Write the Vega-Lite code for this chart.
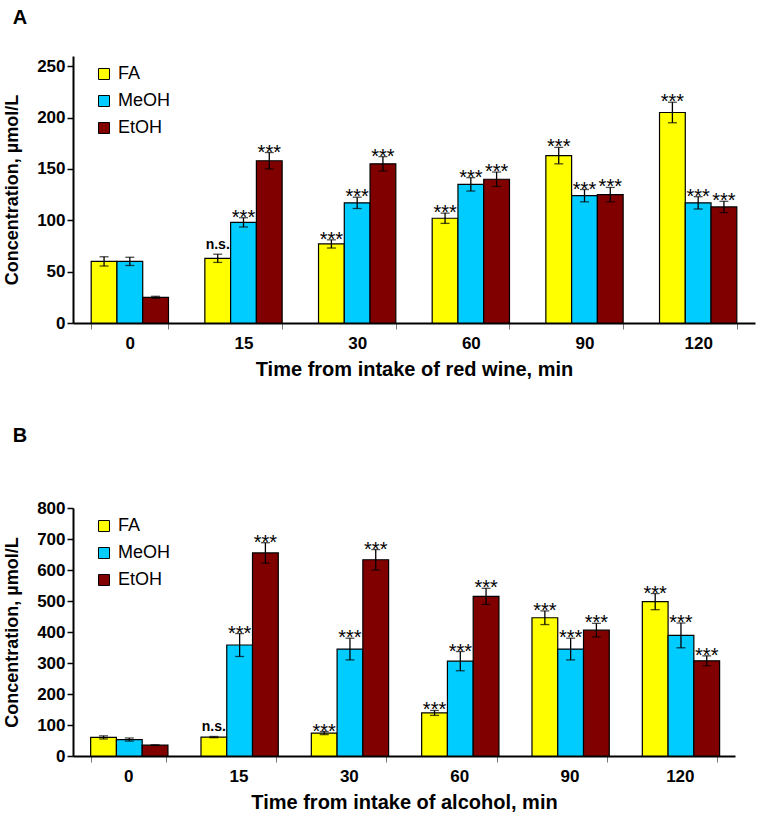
{
  "$schema": "https://vega.github.io/schema/vega-lite/v6.json",
  "padding": {"left": 3, "top": 8, "right": 2, "bottom": 2},
  "background": "white",
  "config": {
    "view": {"stroke": null},
    "font": "Liberation Sans",
    "axis": {"domainColor": "black", "domainWidth": 2, "labelColor": "black", "labelFont": "Liberation Sans", "labelFontWeight": "bold", "labelFontSize": 17, "titleFont": "Liberation Sans", "titleFontWeight": "bold", "titleColor": "black", "grid": false, "labelOverlap": false},
    "axisX": {"titleFontSize": 20},
    "axisY": {"titleFontSize": 18},
    "legend": {"orient": "none", "legendX": 22, "legendY": 9, "title": null, "padding": 0, "symbolType": "square", "symbolSize": 121, "symbolStrokeColor": "black", "symbolStrokeWidth": 1, "labelFontSize": 18, "labelFont": "Liberation Sans", "labelColor": "black", "rowPadding": 9, "labelOffset": 5},
    "concat": {"spacing": 47}
  },
  "resolve": {"scale": {"color": "independent"}, "legend": {"color": "independent"}},
  "datasets": {
    "a": [
      {"time": "0", "series": "FA", "value": 60, "lo": 55.5, "hi": 64.5, "sig": ""},
      {"time": "0", "series": "MeOH", "value": 60, "lo": 56, "hi": 64, "sig": ""},
      {"time": "0", "series": "EtOH", "value": 25, "lo": 24, "hi": 26, "sig": ""},
      {"time": "15", "series": "FA", "value": 63, "lo": 59, "hi": 67, "sig": "n.s."},
      {"time": "15", "series": "MeOH", "value": 98, "lo": 93.5, "hi": 102.5, "sig": "***"},
      {"time": "15", "series": "EtOH", "value": 158, "lo": 150, "hi": 166, "sig": "***"},
      {"time": "30", "series": "FA", "value": 77, "lo": 73, "hi": 81, "sig": "***"},
      {"time": "30", "series": "MeOH", "value": 117, "lo": 111.5, "hi": 122.5, "sig": "***"},
      {"time": "30", "series": "EtOH", "value": 155, "lo": 148, "hi": 162, "sig": "***"},
      {"time": "60", "series": "FA", "value": 102, "lo": 97, "hi": 107, "sig": "***"},
      {"time": "60", "series": "MeOH", "value": 135, "lo": 128.5, "hi": 141.5, "sig": "***"},
      {"time": "60", "series": "EtOH", "value": 140, "lo": 133, "hi": 147, "sig": "***"},
      {"time": "90", "series": "FA", "value": 163, "lo": 155, "hi": 171, "sig": "***"},
      {"time": "90", "series": "MeOH", "value": 124, "lo": 118, "hi": 130, "sig": "***"},
      {"time": "90", "series": "EtOH", "value": 125, "lo": 118, "hi": 132, "sig": "***"},
      {"time": "120", "series": "FA", "value": 205, "lo": 195, "hi": 215, "sig": "***"},
      {"time": "120", "series": "MeOH", "value": 117, "lo": 111, "hi": 123, "sig": "***"},
      {"time": "120", "series": "EtOH", "value": 113, "lo": 107.5, "hi": 118.5, "sig": "***"}
    ],
    "b": [
      {"time": "0", "series": "FA", "value": 60, "lo": 55, "hi": 65, "sig": ""},
      {"time": "0", "series": "MeOH", "value": 53, "lo": 48, "hi": 58, "sig": ""},
      {"time": "0", "series": "EtOH", "value": 35, "lo": 34, "hi": 36, "sig": ""},
      {"time": "15", "series": "FA", "value": 61, "lo": 59, "hi": 63, "sig": "n.s."},
      {"time": "15", "series": "MeOH", "value": 358, "lo": 321, "hi": 395, "sig": "***"},
      {"time": "15", "series": "EtOH", "value": 655, "lo": 622, "hi": 688, "sig": "***"},
      {"time": "30", "series": "FA", "value": 74, "lo": 69, "hi": 79, "sig": "***"},
      {"time": "30", "series": "MeOH", "value": 345, "lo": 310, "hi": 380, "sig": "***"},
      {"time": "30", "series": "EtOH", "value": 633, "lo": 600, "hi": 666, "sig": "***"},
      {"time": "60", "series": "FA", "value": 139, "lo": 131, "hi": 147, "sig": "***"},
      {"time": "60", "series": "MeOH", "value": 306, "lo": 275, "hi": 337, "sig": "***"},
      {"time": "60", "series": "EtOH", "value": 515, "lo": 489, "hi": 541, "sig": "***"},
      {"time": "90", "series": "FA", "value": 446, "lo": 424, "hi": 468, "sig": "***"},
      {"time": "90", "series": "MeOH", "value": 345, "lo": 310, "hi": 380, "sig": "***"},
      {"time": "90", "series": "EtOH", "value": 406, "lo": 384, "hi": 428, "sig": "***"},
      {"time": "120", "series": "FA", "value": 498, "lo": 472, "hi": 524, "sig": "***"},
      {"time": "120", "series": "MeOH", "value": 389, "lo": 349, "hi": 429, "sig": "***"},
      {"time": "120", "series": "EtOH", "value": 307, "lo": 291, "hi": 323, "sig": "***"}
    ]
  },
  "vconcat": [
    {
      "title": {"text": "A", "anchor": "start", "frame": "bounds", "fontSize": 20, "fontWeight": "bold", "offset": 28, "dx": 9, "color": "black", "font": "Liberation Sans"},
      "width": 682,
      "height": 267,
      "data": {"name": "a"},
      "encoding": {
        "x": {"field": "time", "type": "nominal", "scale": {"domain": ["0", "15", "30", "60", "90", "120"], "paddingInner": 0.32, "paddingOuter": 0.16}, "axis": {"title": "Time from intake of red wine, min", "labelAngle": 0, "tickBand": "extent", "tickSize": 6, "tickColor": "#777777", "labelPadding": 6, "titlePadding": 8}},
        "xOffset": {"field": "series", "type": "nominal", "scale": {"domain": ["FA", "MeOH", "EtOH"]}}
      },
      "layer": [
        {"mark": {"type": "bar", "stroke": "black", "strokeWidth": 1.2},
         "encoding": {
           "y": {"field": "value", "type": "quantitative", "title": "Concentration, µmol/L", "scale": {"domain": [0, 250]}, "axis": {"values": [0, 50, 100, 150, 200, 250], "labelOverlap": false, "tickSize": 6, "tickColor": "black", "tickWidth": 1.5, "titlePadding": 15, "labelPadding": 2}},
           "color": {"field": "series", "type": "nominal", "scale": {"domain": ["FA", "MeOH", "EtOH"], "range": ["#FFFF00", "#00CCFF", "#800000"]}}
         }},
        {"mark": {"type": "rule", "color": "black", "strokeWidth": 1.3},
         "encoding": {"y": {"field": "lo", "type": "quantitative", "title": "Concentration, µmol/L", "axis": {"values": [0, 50, 100, 150, 200, 250], "labelOverlap": false, "tickSize": 6, "tickColor": "black", "tickWidth": 1.5, "titlePadding": 15, "labelPadding": 2}}, "y2": {"field": "hi"}}},
        {"mark": {"type": "tick", "color": "black", "size": 9, "thickness": 1.3},
         "encoding": {"y": {"field": "lo", "type": "quantitative", "title": "Concentration, µmol/L", "axis": {"values": [0, 50, 100, 150, 200, 250], "labelOverlap": false, "tickSize": 6, "tickColor": "black", "tickWidth": 1.5, "titlePadding": 15, "labelPadding": 2}}}},
        {"mark": {"type": "tick", "color": "black", "size": 9, "thickness": 1.3},
         "encoding": {"y": {"field": "hi", "type": "quantitative", "title": "Concentration, µmol/L", "axis": {"values": [0, 50, 100, 150, 200, 250], "labelOverlap": false, "tickSize": 6, "tickColor": "black", "tickWidth": 1.5, "titlePadding": 15, "labelPadding": 2}}}},
        {"transform": [{"filter": "datum.sig === '***'"}],
         "mark": {"type": "text", "fontSize": 20, "baseline": "alphabetic", "dy": 6, "color": "black", "font": "Liberation Sans"},
         "encoding": {"y": {"field": "hi", "type": "quantitative", "title": "Concentration, µmol/L", "axis": {"values": [0, 50, 100, 150, 200, 250], "labelOverlap": false, "tickSize": 6, "tickColor": "black", "tickWidth": 1.5, "titlePadding": 15, "labelPadding": 2}}, "text": {"field": "sig"}}},
        {"transform": [{"filter": "datum.sig === 'n.s.'"}],
         "mark": {"type": "text", "fontSize": 14, "fontWeight": "bold", "baseline": "alphabetic", "dy": -5, "color": "black", "font": "Liberation Sans"},
         "encoding": {"y": {"field": "hi", "type": "quantitative", "title": "Concentration, µmol/L", "axis": {"values": [0, 50, 100, 150, 200, 250], "labelOverlap": false, "tickSize": 6, "tickColor": "black", "tickWidth": 1.5, "titlePadding": 15, "labelPadding": 2}}, "text": {"field": "sig"}}}
      ]
    },
    {
      "title": {"text": "B", "anchor": "start", "frame": "bounds", "fontSize": 20, "fontWeight": "bold", "offset": 53, "dx": 9, "color": "black", "font": "Liberation Sans"},
      "width": 662,
      "height": 248,
      "data": {"name": "b"},
      "encoding": {
        "x": {"field": "time", "type": "nominal", "scale": {"domain": ["0", "15", "30", "60", "90", "120"], "paddingInner": 0.32, "paddingOuter": 0.16}, "axis": {"title": "Time from intake of alcohol, min", "labelAngle": 0, "tickBand": "extent", "tickSize": 6, "tickColor": "#777777", "labelPadding": 6, "titlePadding": 8}},
        "xOffset": {"field": "series", "type": "nominal", "scale": {"domain": ["FA", "MeOH", "EtOH"]}}
      },
      "layer": [
        {"mark": {"type": "bar", "stroke": "black", "strokeWidth": 1.2},
         "encoding": {
           "y": {"field": "value", "type": "quantitative", "title": "Concentration, µmol/L", "scale": {"domain": [0, 800]}, "axis": {"values": [0, 100, 200, 300, 400, 500, 600, 700, 800], "labelOverlap": false, "tickSize": 6, "tickColor": "black", "tickWidth": 1.5, "titlePadding": 15, "labelPadding": 2}},
           "color": {"field": "series", "type": "nominal", "scale": {"domain": ["FA", "MeOH", "EtOH"], "range": ["#FFFF00", "#00CCFF", "#800000"]}}
         }},
        {"mark": {"type": "rule", "color": "black", "strokeWidth": 1.3},
         "encoding": {"y": {"field": "lo", "type": "quantitative", "title": "Concentration, µmol/L", "axis": {"values": [0, 100, 200, 300, 400, 500, 600, 700, 800], "labelOverlap": false, "tickSize": 6, "tickColor": "black", "tickWidth": 1.5, "titlePadding": 15, "labelPadding": 2}}, "y2": {"field": "hi"}}},
        {"mark": {"type": "tick", "color": "black", "size": 9, "thickness": 1.3},
         "encoding": {"y": {"field": "lo", "type": "quantitative", "title": "Concentration, µmol/L", "axis": {"values": [0, 100, 200, 300, 400, 500, 600, 700, 800], "labelOverlap": false, "tickSize": 6, "tickColor": "black", "tickWidth": 1.5, "titlePadding": 15, "labelPadding": 2}}}},
        {"mark": {"type": "tick", "color": "black", "size": 9, "thickness": 1.3},
         "encoding": {"y": {"field": "hi", "type": "quantitative", "title": "Concentration, µmol/L", "axis": {"values": [0, 100, 200, 300, 400, 500, 600, 700, 800], "labelOverlap": false, "tickSize": 6, "tickColor": "black", "tickWidth": 1.5, "titlePadding": 15, "labelPadding": 2}}}},
        {"transform": [{"filter": "datum.sig === '***'"}],
         "mark": {"type": "text", "fontSize": 20, "baseline": "alphabetic", "dy": 6, "color": "black", "font": "Liberation Sans"},
         "encoding": {"y": {"field": "hi", "type": "quantitative", "title": "Concentration, µmol/L", "axis": {"values": [0, 100, 200, 300, 400, 500, 600, 700, 800], "labelOverlap": false, "tickSize": 6, "tickColor": "black", "tickWidth": 1.5, "titlePadding": 15, "labelPadding": 2}}, "text": {"field": "sig"}}},
        {"transform": [{"filter": "datum.sig === 'n.s.'"}],
         "mark": {"type": "text", "fontSize": 14, "fontWeight": "bold", "baseline": "alphabetic", "dy": -5, "color": "black", "font": "Liberation Sans"},
         "encoding": {"y": {"field": "hi", "type": "quantitative", "title": "Concentration, µmol/L", "axis": {"values": [0, 100, 200, 300, 400, 500, 600, 700, 800], "labelOverlap": false, "tickSize": 6, "tickColor": "black", "tickWidth": 1.5, "titlePadding": 15, "labelPadding": 2}}, "text": {"field": "sig"}}}
      ]
    }
  ]
}
